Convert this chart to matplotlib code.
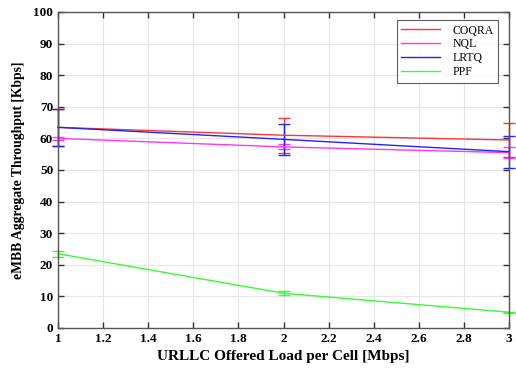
import matplotlib
matplotlib.use("Agg")
import matplotlib.pyplot as plt
from matplotlib.lines import Line2D

x = [1, 2, 3]
coqra = [63.5, 61.0, 59.5]
coqra_err = [5.8, 5.5, 5.3]
nql = [60.0, 57.3, 55.5]
nql_err = [0.6, 0.8, 1.8]
lrtq = [63.5, 59.7, 55.8]
lrtq_err = [5.8, 5.0, 5.1]
ppf = [23.5, 11.0, 5.0]
ppf_err = [1.0, 0.7, 0.2]

series = [
    ("COQRA", coqra, coqra_err, "#ff3333"),
    ("NQL", nql, nql_err, "#ff33ff"),
    ("LRTQ", lrtq, lrtq_err, "#2222ff"),
    ("PPF", ppf, ppf_err, "#33ff33"),
]

plt.rcParams['font.family'] = ['Liberation Serif', 'DejaVu Serif']

fig = plt.figure(figsize=(5.16, 3.69), dpi=100)
ax = fig.add_axes([58/516, 1-328/369, (509-58)/516, (328-12)/369])

handles = []
for name, vals, err, col in series:
    lines, caps, bars = ax.errorbar(x, vals, yerr=err, color=col, linewidth=1.0,
                                    elinewidth=1.0, capsize=4, capthick=1.0)
    for c in caps:
        c.set_clip_on(False)
    for b in bars:
        b.set_clip_on(False)
    lines.set_clip_on(False)
    handles.append(Line2D([], [], color=col, linewidth=1.0, label=name))

ax.set_xlim(1, 3)
ax.set_ylim(0, 100)
ax.set_xticks([1, 1.2, 1.4, 1.6, 1.8, 2, 2.2, 2.4, 2.6, 2.8, 3])
ax.set_xticklabels(["1", "1.2", "1.4", "1.6", "1.8", "2", "2.2", "2.4", "2.6", "2.8", "3"])
ax.set_yticks(range(0, 101, 10))
ax.grid(True, color="#e6e6e6", linewidth=0.8)
ax.set_axisbelow(True)
ax.tick_params(direction="in", top=True, right=True, labelsize=9.5, length=4,
               width=1, color="#333333")
for lbl in ax.get_xticklabels() + ax.get_yticklabels():
    lbl.set_fontweight("bold")
for sp in ax.spines.values():
    sp.set_color("#555555")
    sp.set_linewidth(1.0)

ax.set_xlabel("URLLC Offered Load per Cell [Mbps]", fontsize=11, fontweight="bold")
ax.set_ylabel("eMBB Aggregate Throughput [Kbps]", fontsize=9.8, fontweight="bold",
              labelpad=6)

leg = ax.legend(handles=handles, loc="upper right", bbox_to_anchor=(0.976, 0.975),
                fontsize=8.5, frameon=True, fancybox=False, edgecolor="#333333",
                handlelength=3.3, handletextpad=1.0, labelspacing=0.15,
                borderpad=0.4, borderaxespad=0)
leg.get_frame().set_linewidth(0.8)
fig.savefig("out.png", dpi=100)
